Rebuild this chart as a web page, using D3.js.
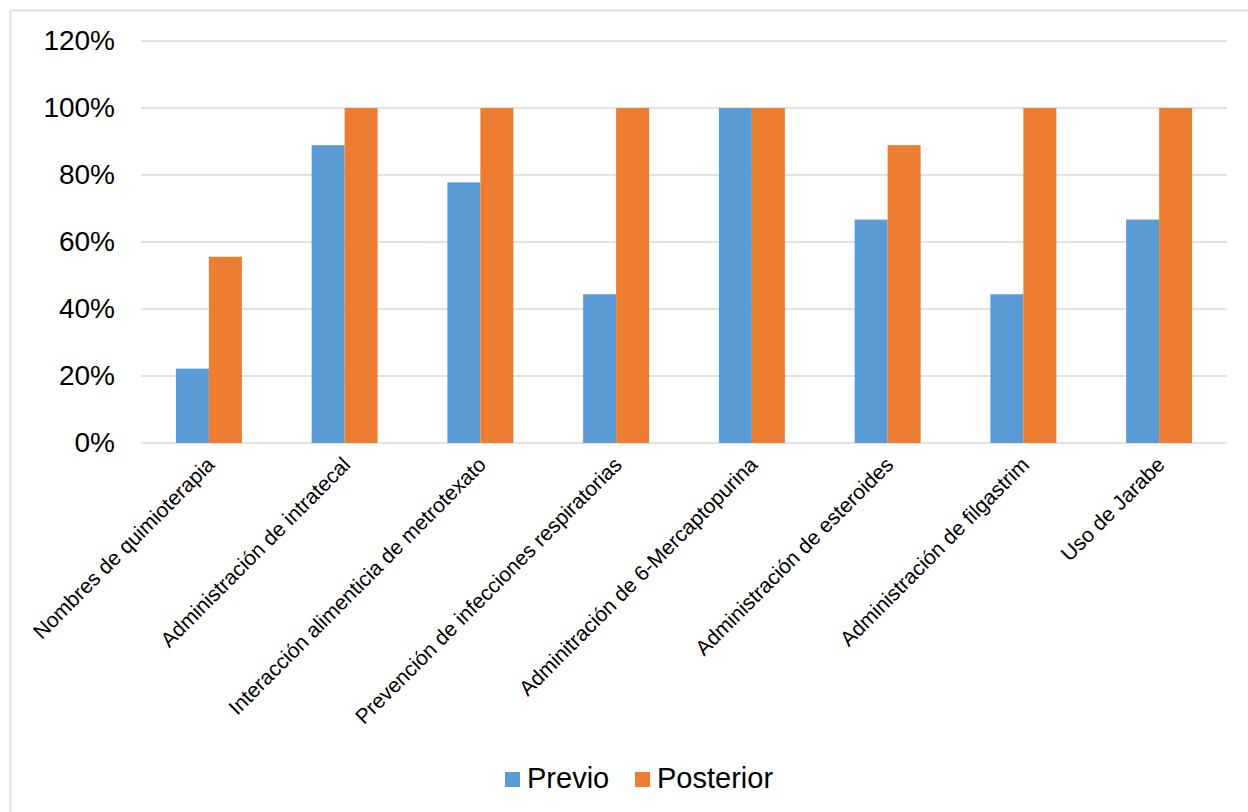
<!DOCTYPE html>
<html>
<head>
<meta charset="utf-8">
<script src="https://cdn.jsdelivr.net/npm/d3@7"></script>
<style>
  body { margin: 0; background: #fff; }
  text { font-family: "Liberation Sans", Arial, sans-serif; fill: #000; }
</style>
</head>
<body>
<div id="chart"></div>
<script>
var categories = ["Nombres de quimioterapia", "Administración de intratecal",
  "Interacción alimenticia de metrotexato", "Prevención de infecciones respiratorias",
  "Adminitración de 6-Mercaptopurina", "Administración de esteroides",
  "Administración de filgastrim", "Uso de Jarabe"];
var seriesNames = ["Previo", "Posterior"];
var previo = [0.222, 0.889, 0.778, 0.444, 1.0, 0.667, 0.444, 0.667];
var posterior = [0.556, 1.0, 1.0, 1.0, 1.0, 0.889, 1.0, 1.0];
var yTicks = [0, 0.2, 0.4, 0.6, 0.8, 1.0, 1.2];
var colors = ["#5B9BD5", "#ED7D31"];

var W = 1248, H = 812;
var margin = {top: 41, right: 21, bottom: 369, left: 141};
var width = W - margin.left - margin.right,
    height = H - margin.top - margin.bottom;

var svg = d3.select("#chart").append("svg")
    .attr("width", W).attr("height", H);

// outer chart border
svg.append("rect")
    .attr("x", 10.5).attr("y", 10.5)
    .attr("width", W).attr("height", H)
    .attr("fill", "none").attr("stroke", "#D9D9D9").attr("stroke-width", 1.5);

var g = svg.append("g").attr("transform", "translate(" + margin.left + "," + margin.top + ")");

var x0 = d3.scaleBand().domain(categories).range([0, width])
    .paddingInner(0.514).paddingOuter(0.257);
var x1 = d3.scaleBand().domain(seriesNames).range([0, x0.bandwidth()]);
var y = d3.scaleLinear().domain([0, 1.2]).range([height, 0]);

// gridlines
g.selectAll(".grid").data(yTicks).enter().append("line")
    .attr("x1", 0).attr("x2", width)
    .attr("y1", function(d){ return y(d); }).attr("y2", function(d){ return y(d); })
    .attr("stroke", "#D9D9D9").attr("stroke-width", 1.5);

// y axis labels
var yAxis = g.append("g")
    .call(d3.axisLeft(y).tickValues(yTicks).tickFormat(d3.format(".0%")).tickSize(0).tickPadding(26));
yAxis.select(".domain").remove();
yAxis.selectAll("text").style("font-size", "28px").attr("font-family", null);

// bars
var data = categories.map(function(c, i){
  return {cat: c, vals: [previo[i], posterior[i]]};
});
var groups = g.selectAll(".grp").data(data).enter().append("g")
    .attr("transform", function(d){ return "translate(" + x0(d.cat) + ",0)"; });
groups.selectAll("rect").data(function(d){
    return d.vals.map(function(v, j){ return {name: seriesNames[j], v: v, j: j}; });
  }).enter().append("rect")
    .attr("x", function(d){ return x1(d.name); })
    .attr("width", x1.bandwidth())
    .attr("y", function(d){ return y(d.v); })
    .attr("height", function(d){ return height - y(d.v); })
    .attr("fill", function(d){ return colors[d.j]; });

// x axis labels
var xAxis = g.append("g").attr("transform", "translate(0," + height + ")")
    .call(d3.axisBottom(x0).tickSize(0).tickPadding(0));
xAxis.select(".domain").remove();
xAxis.selectAll("text")
    .style("font-size", "21px").attr("font-family", null)
    .attr("text-anchor", "end")
    .attr("dy", null)
    .attr("transform", "translate(7,23) rotate(-45)");

// legend
var legend = svg.append("g").attr("transform", "translate(505,779)");
var legX = [0, 130];
seriesNames.forEach(function(n, i){
  var lg = legend.append("g").attr("transform", "translate(" + legX[i] + ",0)");
  lg.append("rect").attr("x", 0).attr("y", -7).attr("width", 15).attr("height", 15).attr("fill", colors[i]);
  lg.append("text").attr("x", 22).attr("y", 9).style("font-size", "29px").text(n);
});
</script>
</body>
</html>
